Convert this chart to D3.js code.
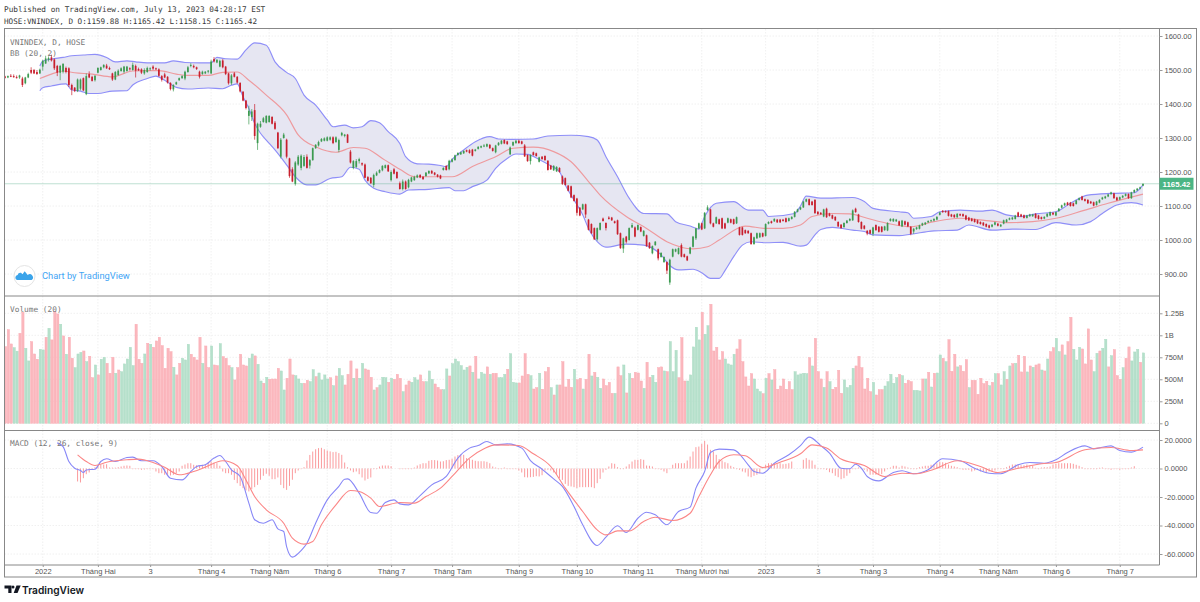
<!DOCTYPE html>
<html><head><meta charset="utf-8">
<script src="https://cdnjs.cloudflare.com/ajax/libs/d3/7.8.5/d3.min.js"></script>
<style>html,body{margin:0;padding:0;background:#fff}svg{display:block}</style>
</head><body><svg id="c" width="1200" height="602"></svg>
<script>
const opens=[1481,1478,1483,1482,1479,1478,1475,1461,1478,1500,1500,1494,1490,1510,1519,1530,1537,1531,1512,1492,1495,1506,1505,1456,1448,1438,1445,1476,1429,1488,1480,1470,1492,1500,1508,1513,1506,1490,1472,1485,1497,1495,1497,1505,1500,1512,1503,1502,1490,1494,1502,1510,1505,1502,1482,1487,1480,1462,1443,1458,1470,1476,1475,1494,1512,1512,1508,1495,1488,1490,1495,1490,1532,1522,1510,1528,1510,1490,1461,1490,1480,1462,1436,1410,1365,1362,1382,1285,1333,1347,1345,1347,1362,1345,1316,1245,1300,1295,1240,1208,1165,1222,1212,1218,1245,1219,1235,1270,1278,1290,1292,1292,1295,1302,1288,1265,1308,1306,1310,1260,1212,1215,1232,1226,1222,1185,1183,1162,1190,1198,1205,1212,1220,1176,1208,1200,1167,
1150,1172,1155,1172,1176,1184,1191,1186,1188,1196,1203,1198,1192,1190,1206,1218,1208,1230,1235,1250,1252,1255,1264,1264,1266,1262,1268,1272,1275,1275,1280,1270,1258,1279,1283,1294,1290,1252,1278,1285,1292,1290,1278,1250,1232,1258,1255,1230,1245,1247,1233,1219,1205,1202,1212,1187,1182,1160,1158,1132,1122,1095,1090,1105,1060,1047,1035,1002,1030,1063,1050,1066,1066,1055,1058,1020,975,1010,1000,1037,1037,1030,1038,1012,1014,992,961,985,973,950,935,935,875,951,966,959,985,958,952,960,980,1005,1034,1049,1034,1088,1090,1049,1049,1061,1064,1049,1051,1061,1061,1049,1037,1037,1029,1027,1020,988,1005,1008,1020,1012,1048,1055,1055,1060,1060,1060,1064,1056,1062,1068,1083,1090,
1096,1113,1120,1113,1118,1083,1080,1069,1092,1078,1073,1068,1053,1045,1038,1050,1057,1058,1092,1075,1053,1042,1027,1029,1018,1044,1039,1039,1029,1028,1056,1055,1055,1055,1040,1055,1052,1039,1025,1032,1033,1043,1046,1052,1056,1057,1060,1074,1086,1085,1085,1075,1074,1067,1076,1076,1072,1066,1063,1061,1058,1053,1051,1047,1043,1039,1045,1048,1040,1048,1053,1060,1061,1062,1081,1075,1073,1065,1070,1070,1077,1072,1067,1063,1069,1072,1080,1072,1085,1095,1102,1110,1110,1108,1106,1118,1128,1120,1118,1113,1111,1103,1110,1120,1123,1128,1135,1137,1125,1119,1125,1130,1135,1123,1140,1146,1151,1159.88];
const highs=[1483,1484,1488,1487,1484,1486,1480,1480,1492,1508,1503,1500,1504,1530,1542,1540,1545,1534,1515,1515,1520,1510,1508,1460,1450,1475,1475,1478,1490,1496,1483,1485,1508,1510,1517,1518,1510,1492,1497,1502,1508,1512,1512,1508,1522,1516,1507,1505,1505,1510,1508,1514,1507,1505,1485,1492,1482,1464,1458,1466,1478,1485,1498,1512,1520,1516,1510,1498,1498,1497,1500,1530,1538,1532,1530,1532,1512,1492,1488,1494,1482,1464,1438,1412,1395,1385,1400,1345,1350,1362,1367,1367,1364,1350,1318,1300,1315,1298,1242,1214,1232,1250,1252,1250,1252,1238,1272,1282,1292,1300,1302,1305,1305,1305,1305,1298,1318,1312,1312,1265,1235,1238,1242,1228,1225,1188,1185,1195,1202,1208,1220,1222,1222,1205,1212,1202,1172,
1178,1175,1180,1186,1189,1193,1194,1188,1200,1205,1206,1200,1194,1192,1214,1220,1236,1240,1251,1258,1260,1264,1266,1267,1268,1268,1276,1278,1282,1284,1282,1272,1280,1288,1294,1296,1292,1275,1290,1294,1295,1292,1282,1252,1252,1260,1257,1245,1247,1249,1235,1221,1220,1217,1214,1190,1184,1162,1160,1134,1124,1097,1107,1107,1062,1049,1037,1037,1052,1066,1052,1070,1068,1057,1060,1022,1007,1012,1037,1050,1040,1046,1040,1029,1016,994,984,997,975,964,952,937,945,975,975,978,990,960,954,980,1012,1036,1051,1051,1082,1102,1092,1051,1069,1063,1066,1051,1066,1063,1063,1069,1039,1039,1031,1029,1022,1010,1022,1022,1022,1049,1055,1057,1064,1062,1062,1062,1066,1066,1070,1085,1092,1098,
1115,1122,1122,1115,1120,1085,1082,1092,1095,1080,1075,1070,1055,1047,1052,1059,1064,1090,1095,1077,1055,1044,1029,1031,1039,1046,1041,1041,1042,1052,1064,1064,1062,1057,1059,1057,1054,1041,1035,1039,1045,1051,1053,1058,1060,1064,1070,1083,1088,1087,1087,1077,1076,1079,1078,1078,1074,1068,1065,1063,1060,1055,1053,1049,1045,1047,1054,1050,1047,1060,1062,1066,1068,1074,1083,1077,1075,1074,1077,1077,1079,1074,1069,1070,1079,1084,1082,1084,1094,1104,1110,1112,1112,1110,1118,1125,1130,1122,1120,1115,1113,1115,1120,1127,1130,1136,1142,1139,1127,1128,1132,1137,1137,1142,1149,1153,1157,1165.42];
const lows=[1475,1476,1479,1477,1475,1474,1450,1458,1476,1488,1488,1486,1488,1498,1518,1525,1525,1500,1482,1470,1490,1490,1450,1426,1435,1435,1440,1438,1426,1476,1466,1466,1490,1498,1505,1503,1500,1468,1470,1483,1495,1490,1495,1498,1498,1478,1497,1488,1486,1492,1498,1500,1500,1480,1466,1476,1460,1440,1437,1456,1468,1474,1470,1492,1508,1505,1500,1475,1486,1488,1490,1488,1522,1520,1508,1505,1485,1457,1456,1478,1460,1434,1408,1384,1340,1350,1295,1265,1330,1345,1343,1345,1340,1324,1268,1240,1298,1240,1183,1170,1160,1218,1205,1215,1210,1210,1233,1268,1275,1288,1290,1290,1292,1282,1286,1258,1305,1302,1285,1225,1208,1212,1225,1218,1182,1172,1165,1155,1188,1196,1202,1210,1200,1172,1193,1180,1148,
1146,1148,1152,1170,1174,1182,1182,1177,1186,1194,1194,1190,1184,1179,1204,1204,1205,1228,1233,1248,1250,1253,1258,1254,1246,1260,1266,1270,1273,1273,1268,1260,1255,1277,1281,1282,1280,1250,1276,1283,1283,1281,1244,1230,1222,1248,1245,1228,1236,1233,1204,1206,1203,1200,1198,1162,1160,1143,1123,1113,1072,1070,1088,1065,1028,1018,1000,998,1028,1054,1028,1060,1056,1048,1015,974,962,990,998,1035,1008,1028,1023,1010,980,974,958,983,940,948,933,900,868,949,964,957,949,948,938,958,978,1000,1032,1029,1032,1086,1046,1037,1047,1045,1032,1032,1049,1049,1045,1047,1013,1013,1018,1018,986,986,1003,1006,1008,1010,1046,1048,1053,1050,1050,1054,1051,1054,1060,1066,1081,1088,
1094,1111,1101,1101,1077,1074,1074,1067,1065,1069,1061,1056,1038,1033,1036,1048,1055,1056,1080,1051,1031,1031,1014,1017,1012,1027,1022,1022,1027,1026,1054,1053,1053,1041,1038,1043,1038,1014,1018,1030,1031,1041,1044,1050,1054,1055,1058,1072,1080,1080,1069,1067,1065,1065,1070,1068,1058,1056,1054,1051,1047,1045,1041,1037,1034,1037,1043,1040,1038,1046,1051,1058,1059,1060,1067,1067,1063,1063,1068,1068,1063,1060,1060,1061,1067,1070,1073,1070,1083,1093,1100,1101,1098,1098,1104,1116,1116,1113,1106,1106,1099,1101,1108,1118,1121,1126,1133,1121,1115,1117,1123,1128,1121,1121,1138,1144,1149,1158.15];
const closes=[1477,1482,1481,1479,1477,1484,1456,1478,1488,1492,1490,1488,1501,1527,1534,1535,1528,1505,1492,1512,1518,1494,1456,1442,1438,1472,1472,1440,1482,1478,1468,1483,1506,1508,1515,1505,1502,1472,1494,1498,1505,1510,1510,1502,1515,1498,1499,1492,1500,1506,1505,1504,1502,1483,1471,1478,1463,1444,1456,1464,1476,1482,1495,1508,1515,1508,1503,1480,1495,1495,1498,1525,1525,1530,1527,1508,1488,1461,1484,1480,1463,1437,1410,1388,1380,1378,1306,1342,1342,1358,1365,1365,1342,1327,1270,1295,1310,1245,1188,1172,1228,1245,1248,1244,1212,1235,1270,1280,1288,1297,1299,1302,1302,1285,1302,1294,1315,1310,1286,1228,1232,1232,1238,1222,1183,1174,1167,1191,1198,1206,1218,1220,1202,1200,1195,1182,1150,
1172,1150,1177,1184,1186,1190,1184,1179,1198,1203,1196,1192,1186,1181,1212,1206,1233,1237,1249,1256,1258,1262,1260,1256,1248,1266,1274,1276,1278,1282,1270,1262,1278,1286,1292,1284,1282,1272,1288,1292,1285,1283,1246,1232,1250,1250,1247,1243,1238,1235,1206,1208,1218,1215,1200,1165,1162,1145,1125,1115,1080,1072,1105,1075,1030,1020,1002,1035,1050,1056,1035,1062,1058,1050,1017,976,1005,995,1035,1044,1010,1044,1025,1027,982,976,982,995,946,962,950,910,942,973,973,976,951,950,940,978,1010,1034,1049,1031,1080,1096,1049,1039,1067,1047,1034,1034,1064,1051,1047,1067,1015,1015,1020,1020,988,1008,1020,1020,1010,1047,1053,1050,1062,1052,1052,1056,1053,1064,1068,1083,1090,1096,
1113,1120,1103,1103,1079,1076,1076,1090,1067,1071,1063,1058,1040,1035,1050,1057,1062,1087,1082,1053,1033,1033,1019,1019,1037,1029,1024,1024,1040,1050,1062,1062,1060,1043,1057,1045,1040,1018,1033,1037,1043,1049,1051,1056,1058,1062,1068,1081,1082,1082,1071,1069,1067,1077,1072,1070,1060,1058,1056,1053,1049,1047,1043,1039,1036,1045,1052,1042,1045,1058,1060,1064,1066,1072,1069,1069,1065,1072,1075,1075,1065,1062,1062,1068,1077,1082,1075,1082,1092,1102,1108,1103,1100,1100,1116,1123,1118,1115,1108,1108,1101,1113,1118,1125,1128,1134,1140,1123,1117,1126,1130,1135,1123,1140,1147,1151,1155,1165.42];

const volumes=[872,1065,902,860,820,1023,1262,853,709,929,788,
728,841,834,978,1080,948,1270,1243,1126,993,
785,978,739,633,788,807,822,701,762,519,
663,550,728,750,682,569,750,569,606,587,
675,731,864,656,1126,728,682,788,910,898,
864,936,978,883,625,853,815,637,550,682,
739,720,898,785,750,720,978,682,879,633,
879,663,656,906,758,739,656,633,493,633,
785,663,652,739,788,766,671,481,455,523,
500,504,504,625,595,379,512,731,550,542,
504,455,455,489,474,610,531,572,493,550,
504,519,428,538,625,542,436,557,709,512,
618,512,682,618,606,523,379,406,436,523,
519,466,512,500,557,
512,360,436,481,466,519,493,550,474,474,
595,500,447,409,383,383,618,538,678,731,
701,656,606,637,652,580,762,504,580,561,
641,557,569,569,519,519,557,614,792,466,
459,459,538,792,557,542,390,406,569,387,
587,637,406,322,436,436,701,413,500,409,
614,496,512,390,500,785,538,580,523,398,
504,428,466,341,341,641,542,663,345,565,
512,580,572,481,398,694,523,546,466,633,
641,595,587,929,587,830,519,974,481,481,
550,868,1092,948,1262,1012,1110,1353,822,864,
720,815,731,675,663,785,845,951,701,527,
424,565,504,390,360,337,512,565,493,610,
387,424,504,387,474,383,587,550,
561,569,565,747,652,966,587,504,409,587,
474,387,409,603,341,493,406,432,625,652,
762,633,390,512,360,466,322,383,383,424,
474,557,455,519,557,542,455,489,474,375,
375,368,504,504,580,413,569,572,777,739,
701,951,591,785,641,656,591,724,406,489,
489,330,512,451,478,428,466,565,565,436,
587,500,652,678,682,773,584,762,584,652,
637,663,675,606,595,731,815,860,966,815,
891,777,929,1205,841,720,864,845,675,1073,
720,587,796,822,853,955,641,769,838,542,
500,633,739,868,709,811,841,694,800];
const volumeDirs=["rrrggrrggrr","rggrgrrrgr","grrgggrgrr","grggrrrgrg","ggggrrrgrg","rrrrrrrgrr","gggrrrrgrr","grrgrrrgrr","rrrggrggrg","rrrrggrrrg","ggrrggrggg","grgrggrrrg","rggrrrgrgg","grgrr",
"rgrrgggrrg","ggrrrggrgg","ggggrgrggg","rgrrgggrgg","grrrrgrrgr","rrgrgrrrrr","grrgrrgrgg","rrrrgrrgrg","rrrrgrrggr","rgrgggrrrg","ggggrggrrr","rrggggrrrr","rrgggrgrgr","rrrrrrgg",
"gggrgrrrgr","grrrrggggr","rrrrrgrrrg","ggggrgrrrg","ggrgrgrggr","grrrgrrrgr","rrrrrgrgrg","grgrgrrrgr","grrgrgrrgg","rgrrgggrrr","rggrggrgrr","rgrrgggrg"].join("");

const upperBars=[12,13,16,20,23,27,31,35,38,42,45,49,52,55,58,62,67,71,73,76,80,83,86,90,93,97,100,103,107,111,113,117,120,123,126,129,132,136,138,142,146,150,152,154,158,162,167,170,175,182,187,195,201,204,207,211,215,220,228,231,236,239,241,245,251,256,261,263,272,274,276,281,292,296,299,308,311,313,319,322,329,336,340,345,350,355,362,367,373,381,389,392];
const upperVals=[1512,1526,1532,1537,1542,1544,1546,1537,1524,1527,1524,1521,1521,1521,1527,1522,1521,1521,1537,1533,1532,1559,1580,1573,1524,1493,1475,1426,1397,1353,1333,1338,1330,1333,1351,1345,1319,1284,1245,1224,1223,1219,1216,1237,1265,1289,1304,1297,1296,1297,1306,1308,1304,1294,1245,1186,1123,1078,1077,1054,1041,1032,1069,1108,1113,1088,1088,1069,1078,1100,1129,1123,1125,1113,1093,1083,1080,1064,1069,1083,1088,1085,1088,1074,1069,1077,1083,1108,1132,1137,1139,1162];
const middleBars=[12,16,20,24,30,37,44,49,53,59,63,70,75,80,84,90,97,101,107,114,120,124,130,136,141,147,154,161,169,175,182,189,195,201,205,214,221,228,237,242,246,255,262,268,274,278,285,291,297,304,312,320,329,338,346,354,362,372,380,392];
const middleVals=[1475,1488,1497,1492,1488,1480,1497,1498,1498,1488,1484,1484,1493,1494,1470,1426,1368,1309,1274,1258,1272,1270,1240,1208,1186,1186,1186,1216,1245,1270,1273,1260,1230,1172,1132,1069,1034,995,974,980,1000,1041,1034,1034,1044,1069,1078,1077,1064,1049,1039,1054,1064,1057,1051,1054,1064,1088,1108,1135];
const lowerBars=[12,13,16,21,23,26,29,32,37,42,44,49,52,55,59,63,70,75,78,80,82,84,86,88,90,93,97,100,104,107,112,116,119,122,124,127,131,136,139,146,153,155,158,161,166,169,173,176,180,184,188,191,193,196,199,201,204,207,214,220,226,229,232,237,240,243,246,248,251,254,257,262,268,274,276,279,281,285,292,296,299,308,312,320,328,332,340,347,355,362,369,374,378,383,388,392];
const lowerVals=[1439,1448,1453,1459,1441,1438,1431,1431,1438,1439,1456,1475,1482,1470,1449,1444,1447,1445,1455,1459,1421,1387,1343,1314,1294,1265,1221,1186,1162,1162,1181,1186,1214,1208,1176,1152,1142,1135,1147,1149,1154,1145,1145,1157,1176,1211,1240,1253,1252,1237,1218,1201,1162,1118,1074,1034,995,979,988,985,956,925,912,914,904,887,887,910,951,985,995,992,993,982,985,1015,1031,1037,1029,1025,1015,1013,1017,1027,1029,1044,1029,1032,1031,1051,1044,1054,1078,1103,1110,1103];

const macdBars=[18,20,22,24,26,27,28,31,33,35,38,42,44,47,51,54,57,61,64,66,69,72,74,76,78,81,84,86,89,92,94,96,97,99,102,104,107,111,115,117,118,122,126,128,131,134,136,139,143,147,152,156,160,163,166,169,173,178,181,185,189,192,196,199,204,207,211,214,218,221,224,228,232,236,238,241,243,246,251,256,258,261,265,270,274,277,281,284,288,291,293,295,297,301,306,309,313,318,323,329,334,339,343,349,353,358,362,366,372,375,381,384,388,392];
const macdVals=[18,15.4,4.9,.2,-1.4,-2.8,-1,-.5,4.9,6.8,4.9,7.7,8,5.4,5.4,1.4,-6.8,-8,-2.1,1.4,2.6,7.3,9.1,4.9,-.9,-5.6,-24.3,-36,-38.4,-36,-42.4,-44.2,-54.8,-62.2,-57.6,-52.4,-38.4,-22,-12.6,-7.5,-7.3,-17.3,-30.9,-31.4,-23.9,-22,-24.8,-25.5,-19,-11.5,-5.6,7.3,14.3,16.1,19,16.6,17.3,14.3,5.6,-.5,-7.3,-12.6,-26.7,-39.5,-54,-48.2,-40.2,-44.9,-34.9,-30.7,-32.5,-39.5,-30.2,-27.1,-13.8,-2.1,11.2,13.6,13.1,2.6,-2.1,-3.3,3.7,9.6,16.1,22,16.1,10.8,.2,-.2,3,.2,-5.6,-8.7,-2.8,-1.6,-3.7,-.9,6.8,5.4,.2,-3.3,-3.7,2.6,4.2,3.7,6.1,11.2,15.9,13.8,15.9,12.6,11.5,15];
const signalBars=[25,28,31,35,42,46,51,55,60,65,69,75,80,83,86,90,96,99,103,106,109,114,119,122,126,129,136,141,145,150,154,160,165,169,177,182,188,193,199,204,207,211,215,220,224,230,236,239,243,246,251,255,261,267,274,278,283,288,296,303,309,314,320,328,336,342,349,357,362,372,381,388,392];
const signalVals=[9.6,4.9,2.1,4.4,6.1,6.6,4.2,.9,-4.4,-2.1,.9,5.4,1.9,-8,-19.7,-29,-38.4,-48.9,-53.1,-51.2,-39.5,-25.5,-15.4,-16.1,-20.8,-26.7,-23.9,-24.3,-19.7,-13.8,-5.6,7.3,13.8,16.6,16.1,10.3,1.4,-13.8,-30.2,-43.1,-46.6,-43.8,-43.8,-37.2,-34.2,-36.5,-31.4,-19.7,-4.4,4.9,9.6,8.9,.7,4.4,10.3,16.6,14.3,6.6,2.1,-5.6,-3.3,-3.7,-.5,5.4,1.4,-2.8,.2,3.3,4.2,13.1,14.7,12.6,13.1];

const histStartBars=[25,136,275];
const histFirst=[-9.1,-9.8,-6.8,-4,-2.8,-.9,.9,2.1,2.6,2.8,3,.7,.6,.6,.9,1.4,1.9,2.1,1.9,.2,0,-.5,-.9,-.7,-.2,0,.2,-2.1,-3.3,-3.3,-4.4,-4.9,-4.9,-4.4,-3.3,-2.1,1.9,2.8,3.7,3.7,2.6,2.3,1.9,2.6,3,4.2,4.9,4.2,3.7,1.9,-2.1,-3.3,-3.3,-4.4,-8,-10.3,-12.2,-13.8,-15.4,-16.1,-14.5,-13.1,-11.5,-7.9,-5.1,-3.7,-5.1,-7.5,-7.5,-6.3,-11.5,-13.8,-15,-12.2,-7.9,-3.3,-1.4,0,.9,5.6,9.5,11.9,13.5,14.3,14.5,13.5,12.6,12,11.5,11.7,10.8,9.6,4.2,.9,-1.4,-2.6,-2.1,-4,-6.3,-8.4,-7.3,-6.3,-.5,0,1.4,2.1,2.1,2.1,1.6];
const histSecond=[-.2,-.2,0,0,.2,.7,2.1,3,3.7,3.7,5.4,5.9,5.9,5.6,4.9,5.1,5.9,6.1,6.8,8.4,9.4,9.8,9.6,7.3,6.6,6.1,5.4,5.1,5.1,5.1,4.7,3.7,1.4,.7,0,.2,.7,0,0,-.5,-.5,-1.4,-2.8,-6.1,-6.3,-6.1,-5.9,-5.4,-5.6,-4.7,-1.4,-.9,-1.4,-2.8,-4.4,-6.8,-8,-10.8,-12.2,-12.6,-13.1,-13.8,-13.1,-13.1,-13.1,-13.1,-13.1,-13.8,-10.3,-7.3,-2.8,-.9,1.4,3.7,3.3,.9,-.2,-.5,1.4,3,4.9,6.1,6.1,6.6,6.1,2.1,1.9,1.4,.2,-.2,-.9,-2.1,-3.3,-.2,2.6,3.7,3.7,3.7,3.7,5.6,8.4,11.9,15,15.4,17.3,19.4,16.8,13.1,11.9,9.6,6.6,5.6,4.4,3.7,1.9,.9,-.5,-.9,-2.1,-2.8,-5.6,-6.1,-5.1,-4.4,-3.3,.9,2.6,3.7,3.7,3.7,3,3.7,3,3.3,3.7,4.9];
const histThird=[6.1,7.3,6.1,5.6,2.6,0,-.2,-.5,-.9,-2.6,-3.3,-5.1,-6.1,-7.5,-6.8,-5.1,-3.3,-.5,-.5,.7,-.5,-.9,-2.1,-4.4,-4.4,-4.4,-4,-4,-2.1,-.5,.7,1.9,1.9,.7,1.9,1.4,.7,0,0,0,.9,1.4,1.9,1.9,2.6,3,3.7,4.7,4.4,4,2.8,1.9,1.4,.9,0,-.9,-.9,-.9,-2.1,-1.4,-.9,-2.1,-2.1,-3.3,-2.1,-2.1,-1.4,-.5,-.5,.2,.9,1.9,2.8,2.8,2.8,2.3,2.3,2.8,1.9,1.9,.5,0,.7,.9,.9,1.4,2.8,3.3,3.7,3.7,3.7,3.7,3.7,3.3,2.6,1.9,.9,-.2,0,0,0,.2,.5,.7,0,-.5,-.9,-.5,-.5,-.9,-.5,0,.2,.7,1.6];

const priceTicks=[900,1000,1100,1200,1300,1400,1500,1600];
const volumeTicks=[0,250,500,750,1000,1250];
const volumeTickLabels=["0","250M","500M","750M","1B","1.25B"];
const macdTicks=[-60,-40,-20,0,20];
const timeTickBars=[13,32,50,71,91,111,133,154,177,197,218,240,262,280,299,322,342,362,384];
const timeTickLabels=["2022","Tháng Hai","3","Tháng 4","Tháng Năm","Tháng 6","Tháng 7","Tháng Tám","Tháng 9","Tháng 10","Tháng 11","Tháng Mười hai","2023","3","Tháng 3","Tháng 4","Tháng Năm","Tháng 6","Tháng 7"];
const lastPrice=1165.42;

const svg=d3.select("#c");
const L=4.5,R=1159.5,OR=1196.5,T=29,P1=296,P2=430.5,P3=565,B=577;
const x=d3.scaleLinear().domain([0,392]).range([5,1143]);
const yP=d3.scaleLinear().domain([900,1600]).range([274,36]);
const yV=d3.scaleLinear().domain([0,1250]).range([423.3,313.3]);
const yM=d3.scaleLinear().domain([-60,20]).range([554,440]);
const MONO='"DejaVu Sans Mono",monospace',SANS='"Liberation Sans",Arial,sans-serif';
const grid=svg.append("g").attr("stroke","#ececec").attr("stroke-width",.8).attr("stroke-dasharray","1.5,1.5");
timeTickBars.forEach(b=>{[[T,P1],[P1,P2],[P2,P3]].forEach(s=>grid.append("line").attr("x1",x(b)).attr("x2",x(b)).attr("y1",s[0]).attr("y2",s[1]));});
function hgrid(ticks,y){ticks.forEach(t=>grid.append("line").attr("x1",L).attr("x2",R).attr("y1",y(t)).attr("y2",y(t)));}
hgrid(priceTicks,yP);hgrid(volumeTicks,yV);hgrid(macdTicks,yM);

// Bollinger bands
const bars=d3.range(opens.length);
const lineOf=(bs,vs,y)=>d3.line().x((d,i)=>x(bs[i])).y(d=>y(d)).curve(d3.curveMonotoneX)(vs);
const up=lineOf(upperBars,upperVals,yP),lo=lineOf(lowerBars.slice().reverse(),lowerVals.slice().reverse(),yP);
svg.append("path").attr("d",up+"L"+lo.slice(1)+"Z").attr("fill","#e6e6f2").attr("stroke","none");
svg.append("path").attr("d",up).attr("fill","none").attr("stroke","#8f8ff8").attr("stroke-width",1.15);
svg.append("path").attr("d",lineOf(lowerBars,lowerVals,yP)).attr("fill","none").attr("stroke","#8f8ff8").attr("stroke-width",1.15);
svg.append("path").attr("d",lineOf(middleBars,middleVals,yP)).attr("fill","none").attr("stroke","#ee9a9e").attr("stroke-width",1.15);

// last price line
svg.append("line").attr("x1",L).attr("x2",R).attr("y1",yP(lastPrice)).attr("y2",yP(lastPrice)).attr("stroke","#5fb392").attr("stroke-width",.8).attr("stroke-dasharray","1,1");

// candles
const UP="#3c9a50",DN="#c81f2d";
const cg=svg.append("g");
cg.selectAll("line").data(bars).join("line").attr("x1",i=>x(i)).attr("x2",i=>x(i)).attr("y1",i=>yP(highs[i])).attr("y2",i=>yP(lows[i])).attr("stroke",i=>closes[i]>=opens[i]?UP:DN).attr("stroke-width",.7);
cg.selectAll("rect").data(bars).join("rect").attr("x",i=>x(i)-.85).attr("width",1.7).attr("y",i=>yP(Math.max(opens[i],closes[i]))).attr("height",i=>Math.max(1,Math.abs(yP(opens[i])-yP(closes[i])))).attr("fill",i=>closes[i]>=opens[i]?UP:DN);

// volume
svg.append("g").selectAll("rect").data(volumes).join("rect").attr("x",(d,i)=>x(i)-.65).attr("width",2.3).attr("y",d=>yV(d)).attr("height",d=>yV(0)-yV(d)).attr("fill",(d,i)=>volumeDirs[i]==="g"?"#b5e0cb":"#fbb7bd").attr("stroke",(d,i)=>volumeDirs[i]==="g"?"#a8d9c0":"#f9a9b1").attr("stroke-width",.4);

// histogram and MACD lines
const hg=svg.append("g").attr("stroke","#f98f92").attr("stroke-width",.9);
[histFirst,histSecond,histThird].forEach((arr,k)=>arr.forEach((v,i)=>{const b=histStartBars[k]+i;hg.append("line").attr("x1",x(b)).attr("x2",x(b)).attr("y1",yM(0)).attr("y2",Math.abs(yM(v)-yM(0))<.7?yM(0)+.7:yM(v));}));
svg.append("path").attr("d",lineOf(macdBars,macdVals,yM)).attr("fill","none").attr("stroke","#8787f7").attr("stroke-width",1.1);
svg.append("path").attr("d",lineOf(signalBars,signalVals,yM)).attr("fill","none").attr("stroke","#fb8686").attr("stroke-width",1.1);

// frame
const fr=svg.append("g").attr("stroke","#888").attr("fill","none");
fr.append("rect").attr("x",L).attr("y",T-.5).attr("width",OR-L).attr("height",B-T+.5).attr("stroke-width",1);
[P1,P2,P3].forEach(y=>fr.append("line").attr("x1",L).attr("x2",R).attr("y1",y).attr("y2",y).attr("stroke-width",1));
fr.append("line").attr("x1",R).attr("x2",R).attr("y1",T).attr("y2",P3).attr("stroke-width",1);

// axes
function axisStyle(g){g.select(".domain").remove();g.selectAll("line").attr("stroke","#999");g.selectAll("text").attr("fill","#555").attr("font-family",SANS).attr("font-size",7.5).attr("stroke","none");}
svg.append("g").attr("transform",`translate(${R},0)`).call(d3.axisRight(yP).tickValues(priceTicks).tickSize(3).tickPadding(2).tickFormat(d3.format(".2f"))).call(axisStyle);
svg.append("g").attr("transform",`translate(${R},0)`).call(d3.axisRight(yV).tickValues(volumeTicks).tickSize(3).tickPadding(2).tickFormat((d,i)=>volumeTickLabels[i])).call(axisStyle);
svg.append("g").attr("transform",`translate(${R},0)`).call(d3.axisRight(yM).tickValues(macdTicks).tickSize(3).tickPadding(2).tickFormat(d=>d3.format(".4f")(d).replace("−","-"))).call(axisStyle);
svg.append("g").attr("transform",`translate(0,${P3})`).call(d3.axisBottom(x).tickValues(timeTickBars).tickSize(2).tickPadding(2).tickFormat((d,i)=>timeTickLabels[i])).call(axisStyle);

// last price tag
svg.append("rect").attr("x",R).attr("y",yP(lastPrice)-6).attr("width",34).attr("height",12).attr("fill","#4bb584");
svg.append("text").attr("x",R+17).attr("y",yP(lastPrice)+3).attr("text-anchor","middle").attr("fill","#fff").attr("font-family",SANS).attr("font-size",7.8).attr("font-weight","bold").text("1165.42");

// texts
const t=(s,xx,yy,size,fill,fam,extra)=>{const e=svg.append("text").attr("x",xx).attr("y",yy).attr("font-size",size).attr("fill",fill).attr("font-family",fam).text(s);if(extra)extra(e);return e;};
t("Published on TradingView.com, July 13, 2023 04:28:17 EST",4,12,7.75,"#3a3a3a",MONO);
t("HOSE:VNINDEX, D O:1159.88 H:1165.42 L:1158.15 C:1165.42",4,24,7.65,"#3a3a3a",MONO);
t("VNINDEX, D, HOSE",10,45,7.8,"#777",MONO);
t("BB (20, 2)",10,56,7.8,"#777",MONO);
t("Volume (20)",10,312,7.8,"#777",MONO);
t("MACD (12, 26, close, 9)",10,446,7.8,"#777",MONO);

// chart-by logo
svg.append("circle").attr("cx",24.5).attr("cy",276).attr("r",10.5).attr("fill","#fff").attr("stroke","#e4e4e4");
svg.append("path").attr("d","M17 280 a2.6 2.6 0 0 1 .6 -5 a3 3 0 0 1 3.4 -2.2 l1.5 1.5 2.2 -3 3 3.6 a2.8 2.8 0 0 1 4 5.1 z").attr("fill","#3ba4ea");
t("Chart by TradingView",42,279,9.3,"#42a5f5","Roboto,"+SANS);

// bottom logo
const lg=svg.append("g").attr("fill","#131722");
lg.append("path").attr("d","M4.5 585.5h7v7.5h-3.2v-4.5h-3.8z");
lg.append("circle").attr("cx",13).attr("cy",587).attr("r",1.5);
lg.append("path").attr("d","M16.5 585.5h4.2l-3.2 7.5h-3.8z");
t("TradingView",22,593.5,10.2,"#131722","Inter,"+SANS,e=>e.attr("font-weight",600));
</script></body></html>
